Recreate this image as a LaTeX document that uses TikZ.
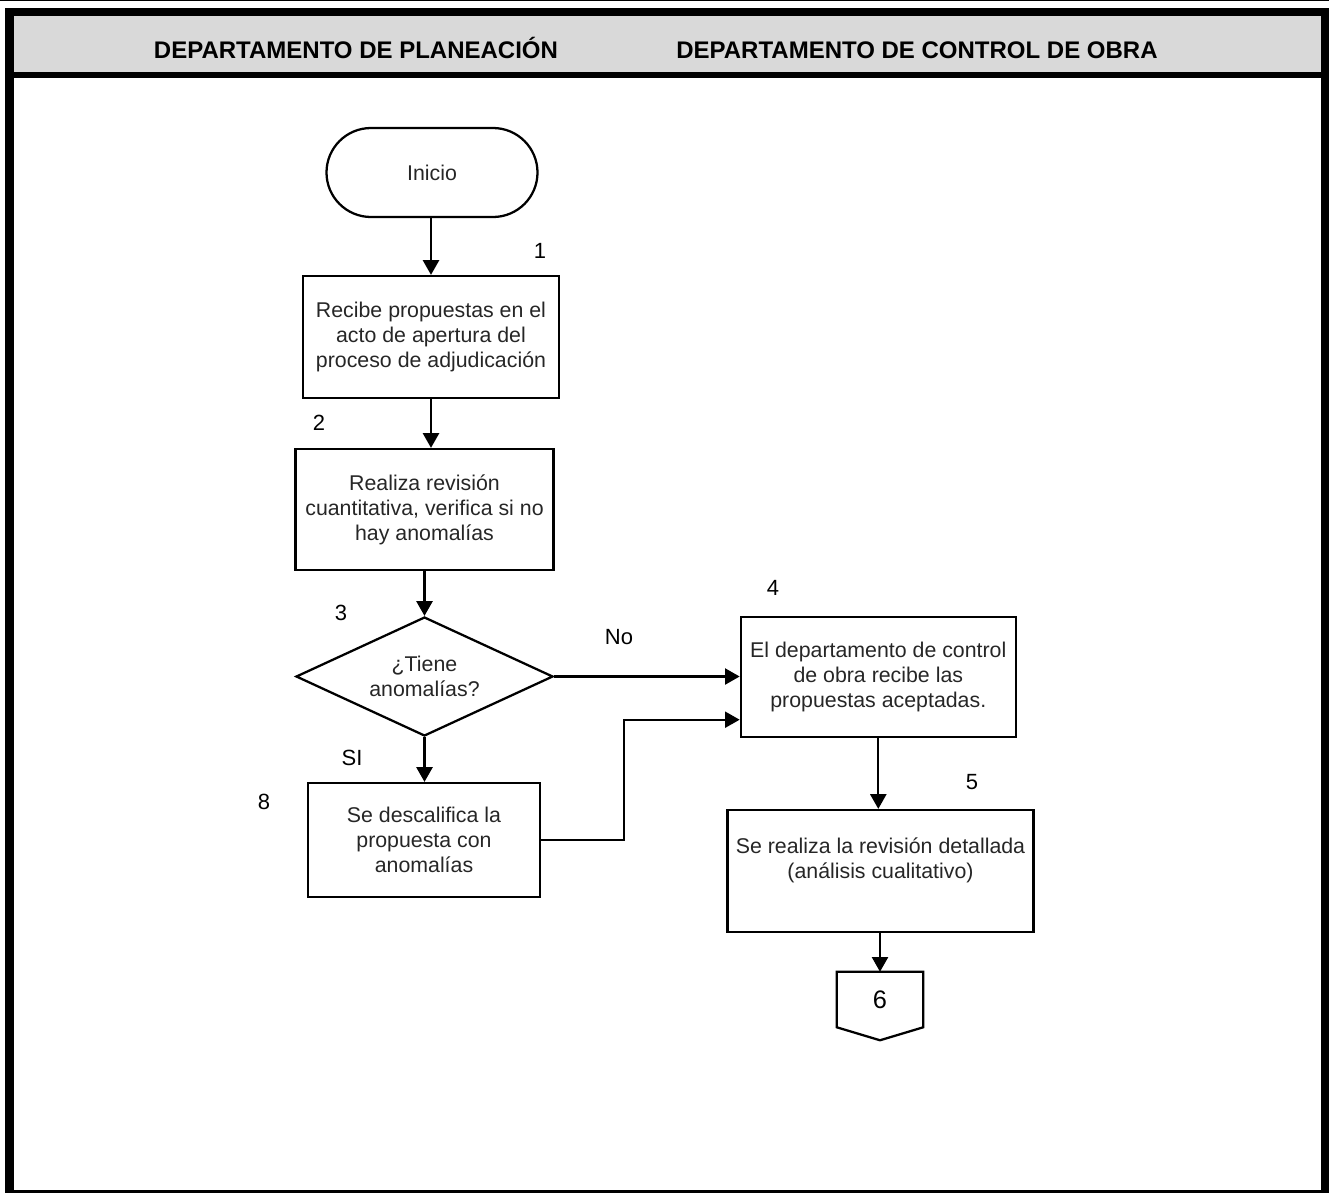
\documentclass[tikz,border=0pt]{standalone}
\usepackage{fontspec}
\setmainfont{Liberation Sans}
\usetikzlibrary{shapes.geometric,shapes.misc,arrows.meta,calc}
\definecolor{hdrgray}{RGB}{217,217,217}
\begin{document}
\begin{tikzpicture}[x=0.75pt,y=-0.75pt,
  every node/.style={font=\fontsize{16}{18.75}\selectfont, text=black!85},
  proc/.style={draw=black, line width=1.7pt, rectangle, align=center, inner sep=0pt},
  term/.style={draw=black, line width=1.7pt, rounded rectangle, align=center, inner sep=0pt},
  dec/.style={draw=black, line width=1.7pt, diamond, aspect=2.16, align=center, inner sep=0pt},
  lbl/.style={font=\fontsize{16.5}{18}\selectfont, text=black},
  hdr/.style={font=\bfseries\fontsize{18}{20}\selectfont, text=black, anchor=base},
  arr/.style={-{Triangle[length=11pt,width=12pt]}, line width=1.7pt}
]
\useasboundingbox (0,0) rectangle (1329,1193);
% frame
\fill[black] (0,0) rectangle (1329,1.3);
\fill[hdrgray] (14,16) rectangle (1321,72);
\fill[black] (5,8) rectangle (14,1193);
\fill[black] (5,8) rectangle (1329,16);
\fill[black] (1321,8) rectangle (1329,1193);
\fill[black] (5,1190) rectangle (1329,1193);
\fill[black] (14,72) rectangle (1321,78);
% headers
\node[hdr] (h1) at (356,58.5) {DEPARTAMENTO DE PLANEACIÓN};
\node[hdr] (h2) at (917,58.5) {DEPARTAMENTO DE CONTROL DE OBRA};
% nodes
\node[term, minimum width=158.25pt, minimum height=66.75pt] (inicio) at (432,172.5) {Inicio};
\node[proc, minimum width=192pt, minimum height=91.5pt] (b1) at (431,337) {Recibe propuestas en el\\acto de apertura del\\proceso de adjudicación};
\node[proc, minimum width=193.5pt, minimum height=90.75pt] (b2) at (424.5,509.5) {Realiza revisión\\cuantitativa, verifica si no\\hay anomalías};
\node[dec, minimum width=192.75pt, minimum height=89.25pt] (d3) at (424.5,676.5) {¿Tiene\\anomalías?};
\node[proc, minimum width=206.25pt, minimum height=90pt] (b4) at (878.3,676.7) {El departamento de control\\de obra recibe las\\propuestas aceptadas.};
\node[proc, minimum width=174pt, minimum height=85.5pt] (b8) at (424,840) {Se descalifica la\\propuesta con\\anomalías};
\node[proc, minimum width=229.5pt, minimum height=91.5pt] (b5) at (880.5,871) {Se realiza la revisión detallada\\(análisis cualitativo)\\\mbox{}};
\node[minimum width=64.5pt, minimum height=41.25pt, inner sep=0pt, font=\fontsize{19}{20}\selectfont, text=black] (c6) at (880,999.5) {6};
\draw[line width=1.7pt, line join=miter] (c6.north west) -- (c6.north east) -- (c6.south east) -- ($(c6.south)+(0,13)$) -- (c6.south west) -- cycle;
% labels
\node[lbl] (n1) at (540,251) {1};
\node[lbl] (n2) at (319,423) {2};
\node[lbl] (n3) at (341,613) {3};
\node[lbl] (n4) at (773,588) {4};
\node[lbl] (n5) at (972,782) {5};
\node[lbl] (n8) at (264,802) {8};
\node[lbl] (no) at (619,637) {No};
\node[lbl] (si) at (352,758) {SI};
% connectors
\coordinate (j) at (624,840);
\draw[arr] (b1.north |- inicio.south) -- (b1.north);
\draw[arr] (b1.south) -- (b1.south |- b2.north);
\draw[arr] (b2.south) -- (d3.north);
\draw[arr] (d3.south) -- (d3.south |- b8.north);
\draw[arr] (d3.east) -- (d3.east -| b4.west);
\draw[arr] (b8.east) -- (b8.east -| j) |- ($(b4.west)+(0,43)$);
\draw[arr] (b4.south) -- (b4.south |- b5.north);
\draw[arr] (b5.south -| c6.north) -- (c6.north);
\end{tikzpicture}
\end{document}
